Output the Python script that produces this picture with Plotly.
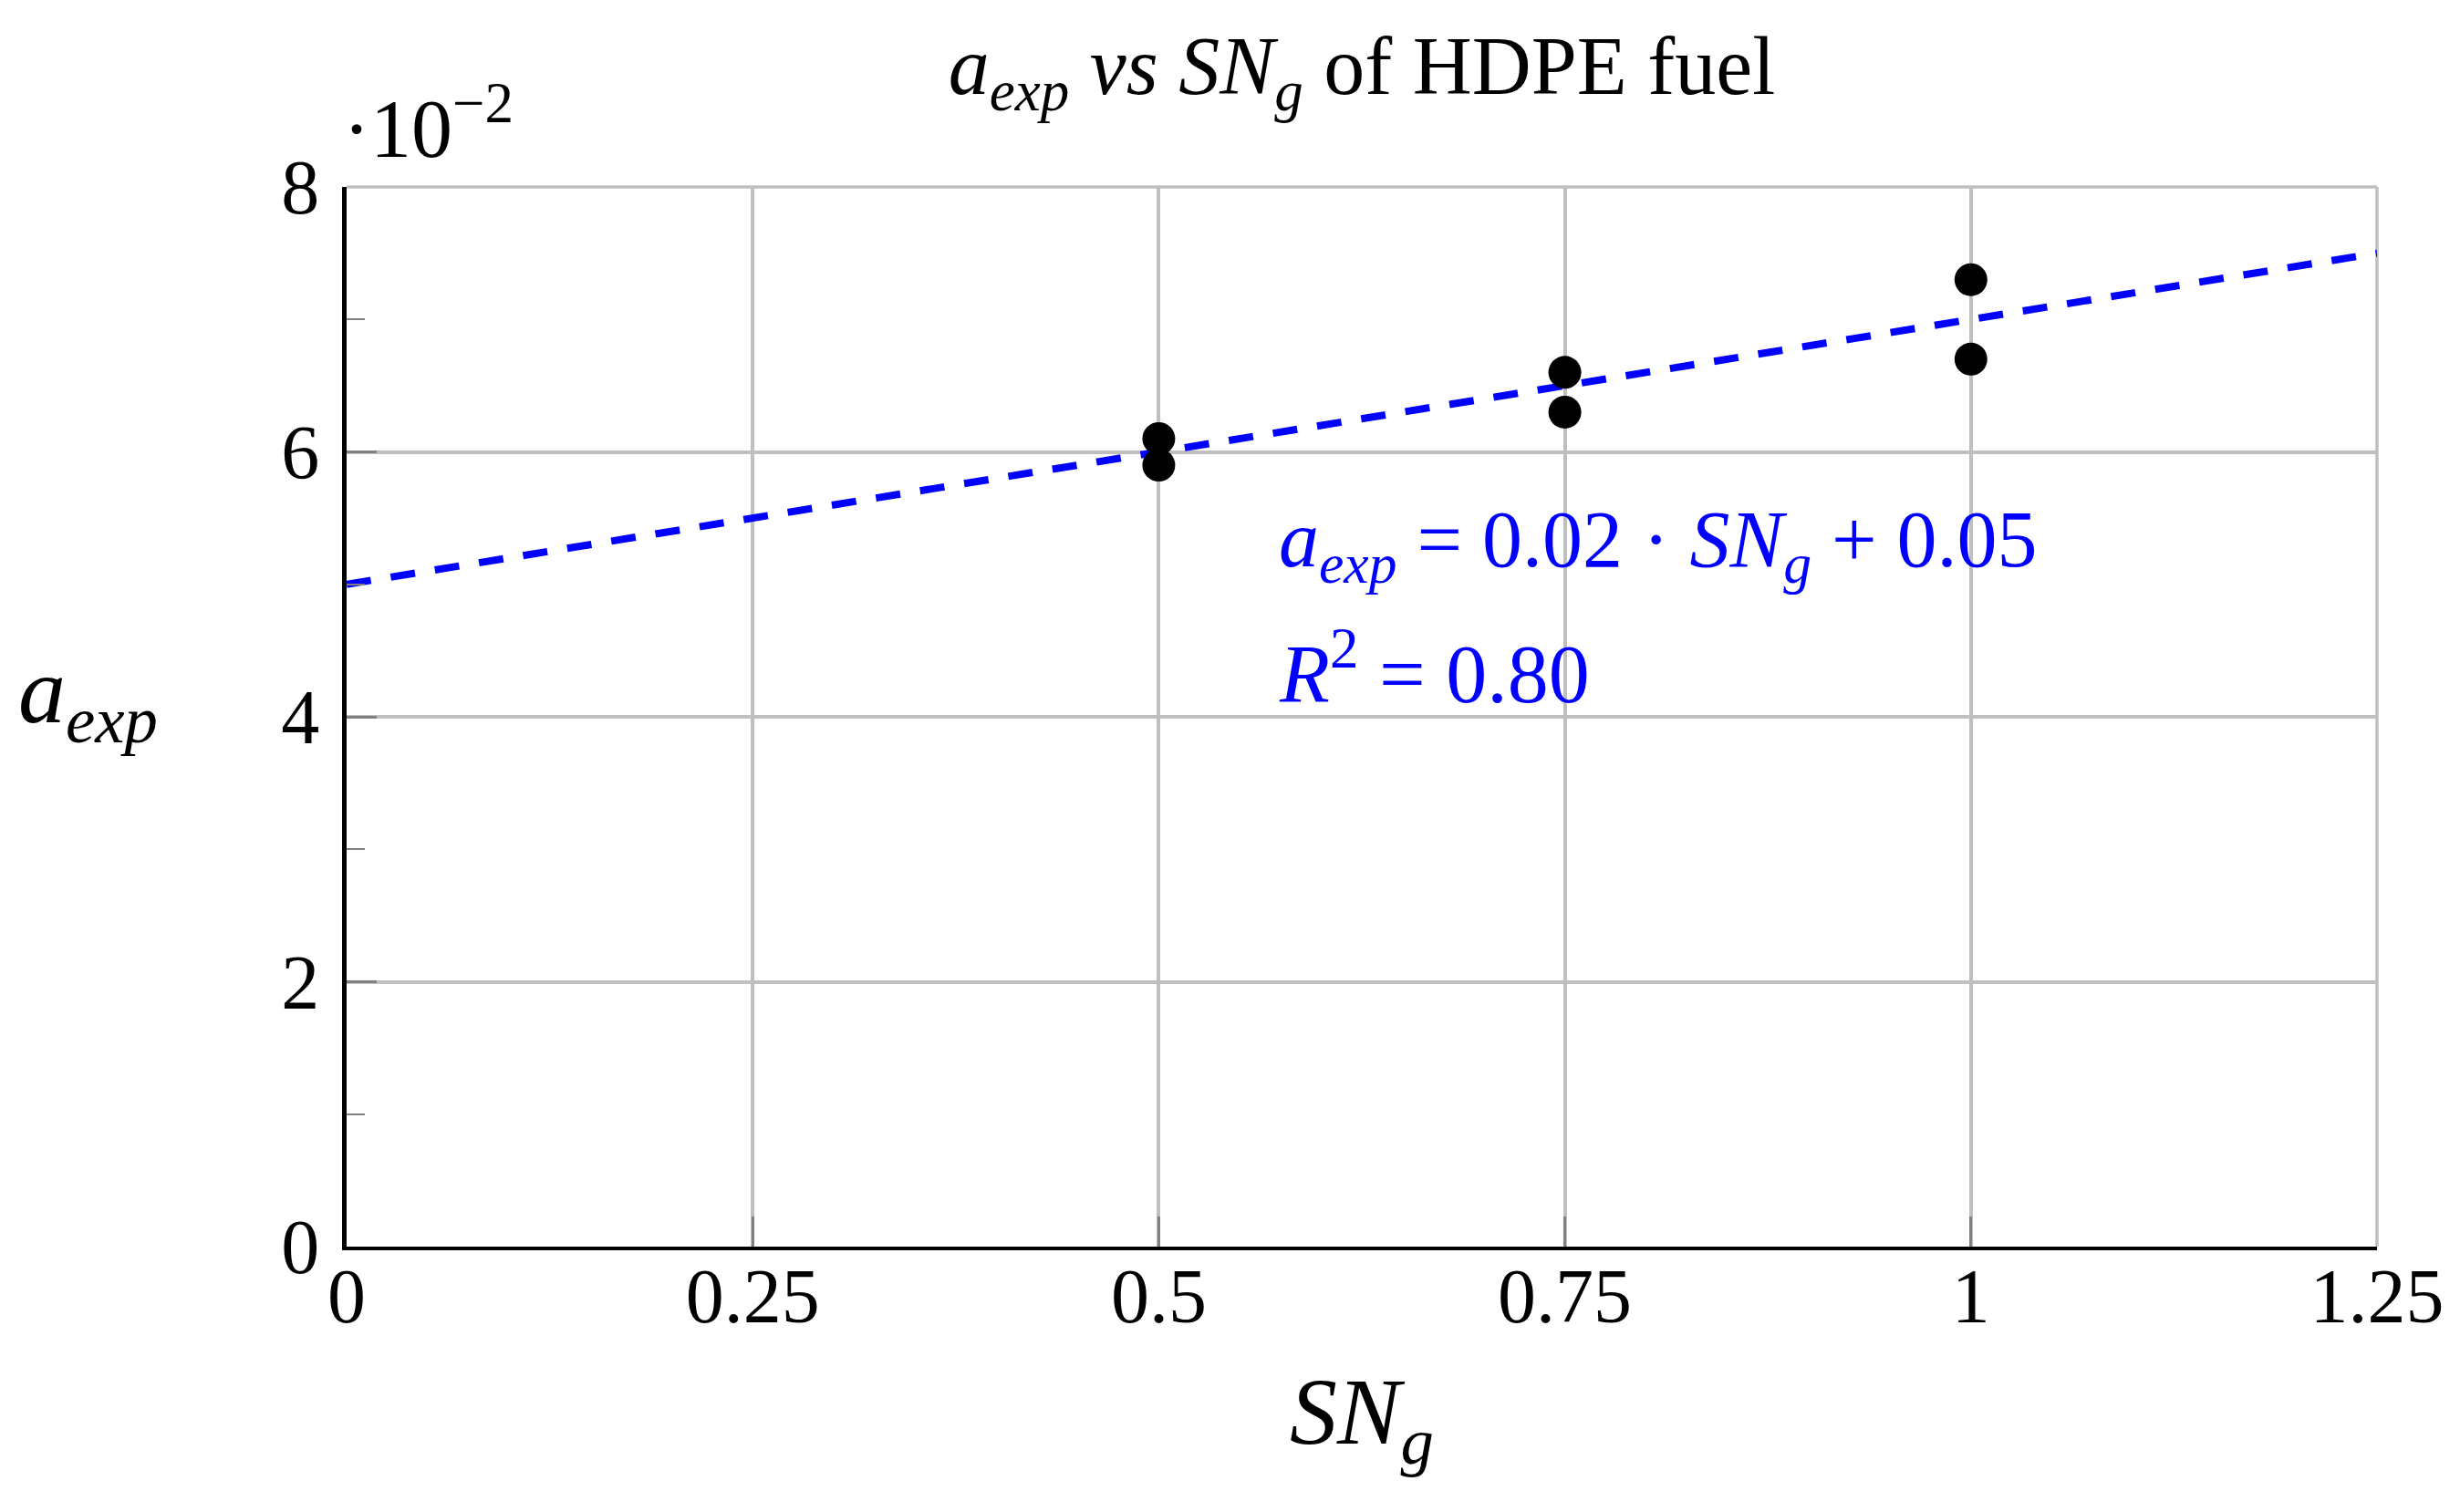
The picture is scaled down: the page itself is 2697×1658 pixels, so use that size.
import plotly.graph_objects as go

# measured points (a_exp vs SN_g), HDPE fuel
sn_g = [0.5, 0.5, 0.75, 0.75, 1.0, 1.0]
a_exp = [0.061, 0.059, 0.066, 0.063, 0.073, 0.067]

# linear fit a_exp = 0.02*SN_g + 0.05, drawn over the full x range
fit_x = [0.0, 1.25]
fit_y = [0.05, 0.075]

x_ticks = [0, 0.25, 0.5, 0.75, 1.0, 1.25]
x_ticktext = ["0", "0.25", "0.5", "0.75", "1", "1.25"]
y_ticks = [0, 0.02, 0.04, 0.06, 0.08]
y_ticktext = ["0", "2", "4", "6", "8"]

FONT = "Liberation Serif"
BLUE = "#0000ff"
GRID = "#bfbfbf"

fig = go.Figure()
fig.add_trace(go.Scatter(x=fit_x, y=fit_y, mode="lines",
                         line=dict(color=BLUE, width=8, dash="27px,22px"),
                         showlegend=False, hoverinfo="skip"))
fig.add_trace(go.Scatter(x=sn_g, y=a_exp, mode="markers",
                         marker=dict(color="black", size=36),
                         showlegend=False, cliponaxis=False))

# page body adds an 8px offset, so margins are shifted to compensate
fig.update_layout(
    width=2697, height=1658,
    margin=dict(l=372, r=99, t=197, b=299),
    paper_bgcolor="white", plot_bgcolor="white",
    font=dict(family=FONT, color="black", size=84),
    title=dict(text="<i>a<sub>exp</sub></i> <i>vs</i> <i>SN<sub>g</sub></i> of HDPE fuel",
               x=0.5, xref="paper", xanchor="center",
               y=0.962, yanchor="middle", font=dict(size=90)),
)

fig.update_xaxes(range=[0, 1.25], tickvals=x_ticks, ticktext=x_ticktext,
                 showgrid=True, gridcolor=GRID, gridwidth=3.5,
                 showline=True, linecolor="black", linewidth=4,
                 ticks="inside", ticklen=33, tickwidth=3, tickcolor="#808080",
                 ticklabelstandoff=-22, zeroline=False,
                 tickfont=dict(size=84))
fig.update_yaxes(range=[0, 0.08], tickvals=y_ticks, ticktext=y_ticktext,
                 showgrid=True, gridcolor=GRID, gridwidth=3.5,
                 showline=True, linecolor="black", linewidth=5,
                 ticks="inside", ticklen=33, tickwidth=3, tickcolor="#808080",
                 minor=dict(dtick=0.01, ticks="inside", ticklen=20, tickwidth=2,
                            tickcolor="#808080", showgrid=False),
                 ticklabelstandoff=8, zeroline=False,
                 tickfont=dict(size=84))

# top and right frame in grid colour
fig.add_shape(type="line", xref="paper", yref="paper", x0=0, x1=1, y0=1, y1=1,
              line=dict(color=GRID, width=3.5), layer="below")
fig.add_shape(type="line", xref="paper", yref="paper", x0=1, x1=1, y0=0, y1=1,
              line=dict(color=GRID, width=3.5), layer="below")

# axis titles
fig.add_annotation(text="<i>SN<sub>g</sub></i>", xref="paper", yref="paper",
                   x=0.5, y=0, yshift=-188, yanchor="middle",
                   showarrow=False, font=dict(size=104))
fig.add_annotation(text="<i>a<sub>exp</sub></i>", xref="paper", yref="y",
                   x=0, y=0.04, xshift=-205, yshift=22, xanchor="right", yanchor="middle",
                   showarrow=False, font=dict(size=104))
# scale factor of the y axis
fig.add_annotation(text="·10<sup>−2</sup>", xref="paper", yref="paper",
                   x=0, y=1, xshift=-6, yshift=12, xanchor="left", yanchor="bottom",
                   showarrow=False, font=dict(size=90))

# fit equation
fig.add_annotation(text="<i>a<sub>exp</sub></i> = 0.02 · <i>SN<sub>g</sub></i> + 0.05",
                   x=0.573, y=0.053, xanchor="left", yanchor="middle",
                   showarrow=False, font=dict(size=88, color=BLUE))
fig.add_annotation(text="<i>R</i><sup>2</sup> = 0.80",
                   x=0.573, y=0.0437, xanchor="left", yanchor="middle",
                   showarrow=False, font=dict(size=90, color=BLUE))

fig.write_html("out.html")
